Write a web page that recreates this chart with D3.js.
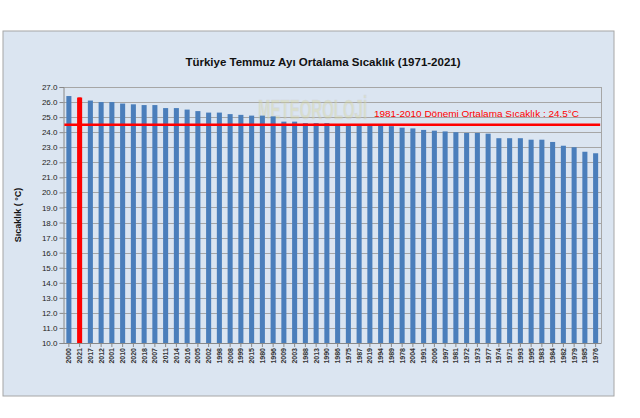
<!DOCTYPE html>
<html><head><meta charset="utf-8">
<script src="https://cdn.jsdelivr.net/npm/d3@7"></script>
<style>body{margin:0;background:#fff}svg{display:block}</style>
</head><body>
<svg id="c" width="640" height="418"></svg>
<script>
const years = ["2000","2021","2017","2012","2001","2010","2020","2018","2007","2011",
"2014","2016","2005","2002","1998","2008","1999","2015","1980","1996",
"2009","2003","1988","2013","1990","1986","1975","1987","2019","1994",
"1989","1978","2004","1991","2006","1997","1981","1972","1973","1977",
"1974","1971","1993","1995","1983","1984","1982","1979","1985","1976"];
const temps = [26.4,26.3,26.1,26.0,26.0,25.9,25.85,25.8,25.8,25.6,
25.6,25.5,25.4,25.3,25.3,25.2,25.15,25.1,25.1,25.05,
24.7,24.7,24.6,24.6,24.6,24.5,24.5,24.5,24.5,24.45,
24.4,24.3,24.25,24.15,24.1,24.05,24.0,23.95,23.95,23.9,
23.6,23.6,23.6,23.5,23.5,23.35,23.1,23.0,22.7,22.6];
const yTicks = d3.range(10, 27.001, 1);
const refValue = 24.5;
const highlightYear = "2021";
const title = "Türkiye Temmuz Ayı Ortalama Sıcaklık (1971-2021)";
const yTitle = "Sıcaklık ( °C)";
const refLabel = "1981-2010 Dönemi  Ortalama Sıcaklık : 24.5°C";

const svg = d3.select("#c");
const font = "'Liberation Sans', Arial, sans-serif";

svg.append("rect").attr("x",3).attr("y",31).attr("width",611).attr("height",365)
  .attr("fill","#dbe5f1").attr("stroke","#a6a6a6");

const L=63.5, R=601, T=87, B=343;
const x = d3.scaleBand().domain(years).range([L,R]).paddingInner(0.53).paddingOuter(0.265);
const y = d3.scaleLinear().domain([10,27]).range([B,T]);

// gridlines
svg.append("g").selectAll("line").data(yTicks).join("line")
  .attr("x1",L).attr("x2",R).attr("y1",d=>Math.round(y(d))+0.5).attr("y2",d=>Math.round(y(d))+0.5)
  .attr("stroke","#a6a6a6").attr("stroke-width",1);
svg.append("line").attr("x1",R+0.5).attr("x2",R+0.5).attr("y1",T).attr("y2",B).attr("stroke","#a6a6a6");

// watermark (faint)
svg.append("text").attr("transform","translate(258,119) scale(1,1.8)")
  .attr("font-family",font).attr("font-weight","bold").attr("font-size",15)
  .attr("fill","#d8d8a0").attr("opacity",0.45).attr("stroke","#c8c8c8").attr("stroke-width",0.4)
  .text("METEOROLOJİ");

// bars
svg.append("g").selectAll("rect").data(years).join("rect")
  .attr("x",d=>x(d)).attr("width",x.bandwidth())
  .attr("y",(d,i)=>y(temps[i])).attr("height",(d,i)=>B-y(temps[i]))
  .attr("fill",d=>d===highlightYear?"#ff0000":"#4a7ebb");

// axes
const yAxis = d3.axisLeft(y).tickValues(yTicks).tickFormat(d3.format(".1f")).tickSize(4).tickPadding(2);
const gy = svg.append("g").attr("transform",`translate(${L},0)`).call(yAxis);
gy.select(".domain").attr("stroke","#888");
gy.selectAll(".tick line").attr("stroke","#888");
gy.selectAll("text").attr("font-family",font).attr("font-size",8).attr("fill","#222");

const xAxis = d3.axisBottom(x).tickSize(4).tickSizeOuter(0);
const gx = svg.append("g").attr("transform",`translate(0,${B})`).call(xAxis);
gx.select(".domain").attr("stroke","#888");
gx.selectAll(".tick line").attr("stroke","#888");
gx.selectAll("text").attr("font-family",font).attr("font-size",7).attr("font-weight","bold").attr("fill","#333")
  .attr("transform","rotate(-90)").attr("text-anchor","end").attr("x",-5).attr("y",0).attr("dy","0.35em");

// reference line
svg.append("line").attr("x1",x(years[0])-2).attr("x2",x(years[years.length-1])+x.bandwidth()+2)
  .attr("y1",y(refValue)).attr("y2",y(refValue)).attr("stroke","#ff0000").attr("stroke-width",2.5);
// highlight vertical
svg.append("line").attr("x1",x(highlightYear)+x.bandwidth()/2).attr("x2",x(highlightYear)+x.bandwidth()/2)
  .attr("y1",y(temps[years.indexOf(highlightYear)])).attr("y2",B).attr("stroke","#ff0000").attr("stroke-width",3);

svg.append("text").attr("x",374).attr("y",117)
  .attr("font-family",font).attr("font-size",9.5).attr("textLength",205).attr("lengthAdjust","spacingAndGlyphs")
  .attr("fill","#ff0000").text(refLabel);

svg.append("text").attr("x",323).attr("y",66).attr("text-anchor","middle")
  .attr("font-family",font).attr("font-weight","bold").attr("font-size",11.5).attr("fill","#111").text(title);

svg.append("text").attr("transform","translate(21,215) rotate(-90)").attr("text-anchor","middle")
  .attr("font-family",font).attr("font-weight","bold").attr("font-size",9).attr("fill","#111").text(yTitle);
</script>
</body></html>
